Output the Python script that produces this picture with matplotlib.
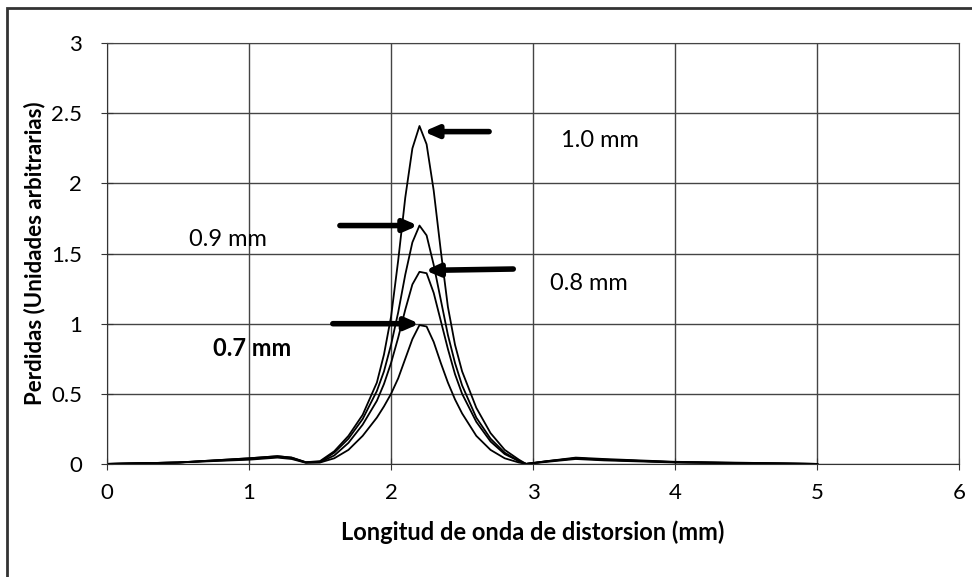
import matplotlib.pyplot as plt
from matplotlib.patches import Rectangle

plt.rcParams['font.family'] = ['Lato', 'DejaVu Sans']

# longitud de onda de distorsion (mm)
x = [0, 0.5, 1.0, 1.2, 1.3, 1.4, 1.5, 1.6, 1.7, 1.8, 1.9, 1.95, 2.0, 2.05, 2.1, 2.15, 2.2,
     2.25, 2.3, 2.35, 2.4, 2.45, 2.5, 2.6, 2.7, 2.8, 2.9, 2.95, 3.1, 3.3, 3.5, 4.0, 4.5, 5.0]

# perdidas para cada espesor
y_10 = [0, 0.01, 0.04, 0.055, 0.045, 0.012, 0.02, 0.09, 0.2, 0.35, 0.58, 0.78, 1.05, 1.45, 1.9, 2.25, 2.41,
        2.28, 1.95, 1.52, 1.12, 0.85, 0.66, 0.4, 0.22, 0.1, 0.03, 0.0, 0.02, 0.045, 0.035, 0.015, 0.008, 0.0]
y_09 = [0, 0.01, 0.04, 0.055, 0.045, 0.012, 0.015, 0.08, 0.18, 0.32, 0.52, 0.66, 0.85, 1.08, 1.35, 1.58, 1.70,
        1.63, 1.42, 1.17, 0.92, 0.72, 0.56, 0.33, 0.18, 0.08, 0.02, 0.0, 0.02, 0.04, 0.03, 0.013, 0.006, 0.0]
y_08 = [0, 0.01, 0.035, 0.05, 0.04, 0.01, 0.012, 0.06, 0.15, 0.28, 0.45, 0.57, 0.72, 0.9, 1.1, 1.28, 1.37,
        1.36, 1.22, 1.02, 0.82, 0.64, 0.5, 0.3, 0.16, 0.07, 0.02, 0.0, 0.018, 0.04, 0.03, 0.012, 0.005, 0.0]
y_07 = [0, 0.01, 0.03, 0.045, 0.035, 0.008, 0.01, 0.04, 0.1, 0.2, 0.33, 0.41, 0.5, 0.61, 0.75, 0.89, 0.99,
        0.98, 0.87, 0.72, 0.58, 0.46, 0.36, 0.2, 0.1, 0.04, 0.01, 0.0, 0.015, 0.035, 0.025, 0.01, 0.004, 0.0]

labels = ['1.0 mm', '0.9 mm', '0.8 mm', '0.7 mm']
label_pos = [(3.47, 2.31), (0.85, 1.60), (3.39, 1.29), (1.02, 0.82)]
arrow_tail = [(2.69, 2.37), (1.64, 1.70), (2.86, 1.39), (1.59, 1.00)]
arrow_head = [(2.23, 2.37), (2.19, 1.70), (2.24, 1.38), (2.20, 1.00)]

fig = plt.figure(figsize=(9.72, 5.77), dpi=100)
ax = fig.add_axes([0.110, 0.196, 0.877, 0.729])

for y in [y_10, y_09, y_08, y_07]:
    ax.plot(x, y, color='black', lw=1.3)

for i, lab in enumerate(labels):
    ax.annotate('', xy=arrow_head[i], xytext=arrow_tail[i],
                arrowprops=dict(arrowstyle='-|>,head_width=0.35,head_length=0.8',
                                color='black', lw=4, shrinkA=0, shrinkB=0))
    ax.text(label_pos[i][0], label_pos[i][1], lab, fontsize=17, ha='center', va='center',
            fontweight='bold' if lab == '0.7 mm' else 'normal')

ax.set_xlim(0, 6)
ax.set_ylim(0, 3)
ax.set_xticks(range(7))
ax.set_yticks([0, 0.5, 1, 1.5, 2, 2.5, 3])
ax.set_yticklabels(['0', '0.5', '1', '1.5', '2', '2.5', '3'])
ax.grid(True, color='#444444', lw=1)
ax.set_axisbelow(True)
for s in ax.spines.values():
    s.set_color('#444444')
ax.spines['left'].set_color('#333333')
ax.spines['bottom'].set_color('#333333')
ax.tick_params(direction='inout', length=8, labelsize=16, pad=10, color='#333333')
ax.tick_params(axis='y', pad=14)
ax.set_xlabel('Longitud de onda de distorsion (mm)', fontsize=17, fontweight='bold', labelpad=12)
ax.set_ylabel('Perdidas (Unidades arbitrarias)', fontsize=16, fontweight='bold', labelpad=4)

fig.patches.append(Rectangle((0.007, -0.1), 1.2, 1.086, transform=fig.transFigure,
                             fill=False, lw=2, edgecolor='#333333'))

fig.savefig('out.png', dpi=100)
